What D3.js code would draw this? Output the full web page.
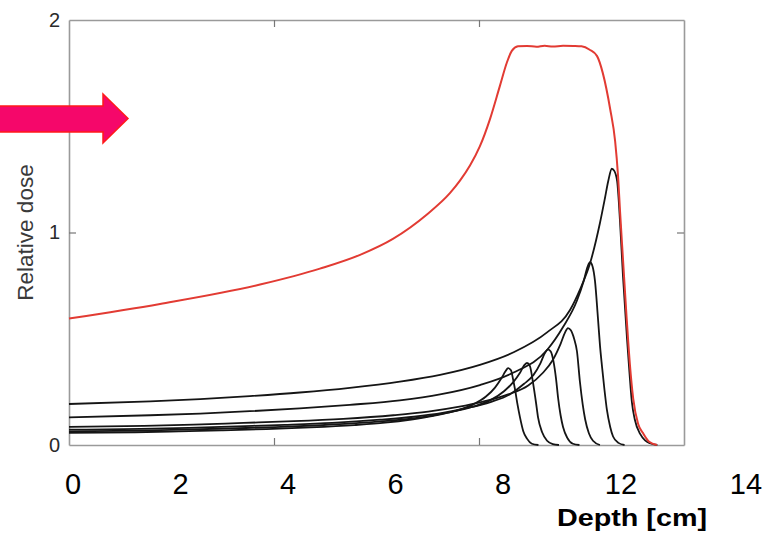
<!DOCTYPE html>
<html>
  <head>
    <meta charset="utf-8">
    <title>Relative dose vs depth</title>
    <script src="https://d3js.org/d3.v7.min.js"></script>
    <style>
      body { margin: 0; background: #fff; }
      #chart { display: block; font-family: "Liberation Sans", Arial, sans-serif; }
      .frame path.domain { stroke: #9a9a9a; stroke-width: 1.6; }
      .frame .tick line { stroke: #777; stroke-width: 1.2; }
      .ylab path.domain { display: none; }
      .ylab .tick text { font-size: 20px; fill: #2a2a2a; }
      .bragg { fill: none; stroke: #151515; stroke-width: 1.8; }
      .sobp { fill: none; stroke: #e23b33; stroke-width: 2; }
    </style>
  </head>
  <body>
    <svg id="chart" width="769" height="539"></svg>
    <script>
      // data: [depth, relative dose]
      peak1 = [[0,0.057],[1.61,0.06],[2.68,0.064],[3.75,0.069],[4.82,0.075],[5.89,0.083],[6.96,0.094],[7.71,0.105],[8.35,0.12],[8.89,0.137],[9.42,0.16],[9.85,0.19],[10.17,0.228],[10.39,0.27],[10.55,0.315],[10.65,0.348],[10.71,0.362],[10.78,0.352],[10.83,0.31],[10.88,0.26],[10.94,0.19],[11.0,0.13],[11.08,0.065],[11.17,0.03],[11.29,0.006],[11.45,0]];
      peak2 = [[0,0.064],[1.68,0.068],[2.79,0.072],[3.91,0.078],[5.03,0.084],[6.14,0.093],[7.26,0.106],[8.04,0.118],[8.71,0.134],[9.27,0.153],[9.83,0.179],[10.28,0.211],[10.61,0.253],[10.83,0.295],[11.0,0.34],[11.1,0.375],[11.17,0.386],[11.24,0.372],[11.32,0.29],[11.39,0.2],[11.44,0.13],[11.54,0.06],[11.66,0.02],[11.8,0.004],[11.95,0]];
      peak3 = [[0,0.072],[1.75,0.076],[2.92,0.081],[4.09,0.088],[5.26,0.095],[6.42,0.104],[7.59,0.119],[8.41,0.133],[9.11,0.151],[9.69,0.173],[10.28,0.202],[10.75,0.238],[11.1,0.288],[11.33,0.33],[11.5,0.385],[11.6,0.43],[11.68,0.45],[11.75,0.44],[11.82,0.39],[11.88,0.31],[11.93,0.22],[11.99,0.14],[12.05,0.085],[12.15,0.035],[12.29,0.006],[12.45,0]];
      peak4 = [[0,0.085],[1.83,0.09],[3.04,0.096],[4.26,0.104],[5.48,0.112],[6.69,0.123],[7.91,0.14],[8.76,0.157],[9.49,0.179],[10.1,0.204],[10.71,0.238],[11.2,0.28],[11.56,0.34],[11.8,0.4],[11.99,0.476],[12.1,0.53],[12.17,0.55],[12.24,0.54],[12.32,0.5],[12.39,0.44],[12.46,0.3],[12.53,0.19],[12.59,0.12],[12.68,0.055],[12.78,0.02],[12.95,0]];
      peak5 = [[0,0.13],[1.98,0.14],[3.2,0.148],[4.41,0.159],[5.63,0.172],[6.85,0.189],[8.07,0.21],[9.05,0.238],[10.02,0.282],[10.83,0.34],[11.66,0.447],[12.05,0.555],[12.39,0.68],[12.55,0.77],[12.65,0.84],[12.71,0.86],[12.77,0.84],[12.83,0.77],[12.9,0.6],[12.95,0.47],[13.0,0.37],[13.06,0.26],[13.12,0.165],[13.2,0.085],[13.27,0.04],[13.4,0.01],[13.55,0]];
      peak6 = [[0,0.193],[1.98,0.205],[3.2,0.216],[4.41,0.23],[5.63,0.247],[6.85,0.269],[8.07,0.298],[9.05,0.33],[10.02,0.377],[10.83,0.435],[11.66,0.53],[12.22,0.635],[12.46,0.73],[12.71,0.856],[12.95,1.045],[13.07,1.16],[13.15,1.24],[13.24,1.3],[13.3,1.29],[13.37,1.24],[13.44,1.05],[13.51,0.8],[13.61,0.5],[13.67,0.34],[13.73,0.2],[13.8,0.12],[13.93,0.052],[14.05,0.022],[14.17,0.008],[14.35,0]];
      sobp = [[0,0.595],[2.22,0.664],[4.66,0.755],[6.12,0.83],[7.1,0.895],[7.9,0.97],[8.73,1.085],[9.29,1.185],[9.54,1.245],[9.78,1.315],[10.02,1.405],[10.27,1.535],[10.51,1.69],[10.68,1.8],[10.8,1.855],[10.95,1.876],[11.17,1.878],[11.4,1.874],[11.6,1.879],[11.8,1.875],[12.05,1.879],[12.3,1.878],[12.5,1.876],[12.7,1.86],[12.88,1.83],[13.02,1.75],[13.2,1.58],[13.32,1.43],[13.39,1.27],[13.44,1.1],[13.51,0.88],[13.6,0.6],[13.68,0.38],[13.76,0.22],[13.88,0.1],[14.0,0.056],[14.15,0.015],[14.34,0]];
      braggCurves = [peak1, peak2, peak3, peak4, peak5, peak6];

      // tick labels
      yTickValues = [0, 1, 2];
      depthLabels = [0, 2, 4, 6, 8, 12, 14];
      yTitle = "Relative dose";
      xTitle = "Depth [cm]";

      chart = d3.select("#chart");

      // plot scales (inner frame)
      x = d3.scaleLinear().domain([0, 15]).range([69, 684]);
      y = d3.scaleLinear().domain([0, 2]).range([445, 20]);
      // overlaid depth labels are spaced by hand in the original
      xLabel = d3.scaleLinear().domain([0, 8, 12, 14]).range([73, 503, 621, 746]);

      // frame with little inner ticks
      chart.append("g").attr("class", "frame")
        .attr("transform", "translate(0," + y(0) + ")")
        .call(d3.axisBottom(x).tickValues([5, 10]).tickSizeInner(-7).tickSizeOuter(0).tickFormat(""));
      chart.append("g").attr("class", "frame")
        .attr("transform", "translate(0," + y(2) + ")")
        .call(d3.axisTop(x).tickValues([5, 10]).tickSizeInner(-7).tickSizeOuter(0).tickFormat(""));
      chart.append("g").attr("class", "frame")
        .attr("transform", "translate(" + x(0) + ",0)")
        .call(d3.axisLeft(y).tickValues([1]).tickSizeInner(-7).tickSizeOuter(0).tickFormat(""));
      chart.append("g").attr("class", "frame")
        .attr("transform", "translate(" + x(15) + ",0)")
        .call(d3.axisRight(y).tickValues([1]).tickSizeInner(-7).tickSizeOuter(0).tickFormat(""));

      // y tick labels
      chart.append("g").attr("class", "ylab")
        .attr("transform", "translate(" + x(0) + ",0)")
        .call(d3.axisLeft(y).tickValues(yTickValues).tickSize(0).tickPadding(9).tickFormat(d3.format("d")))
        .selectAll("text").attr("font-family", null);

      chart.append("text")
        .attr("transform", "translate(33," + y(1) + ") rotate(-90)")
        .attr("text-anchor", "middle")
        .style("font-size", "22.5px")
        .style("fill", "#3a3a3a")
        .text(yTitle);

      // curves
      line = d3.line()
        .x(function(d) { return x(d[0]); })
        .y(function(d) { return y(d[1]); })
        .curve(d3.curveMonotoneX);

      chart.append("g")
        .selectAll(".bragg")
          .data(braggCurves)
        .enter().append("path")
          .attr("class", "bragg")
          .attr("d", line);

      chart.append("path")
        .datum(sobp)
        .attr("class", "sobp")
        .attr("d", line);

      // arrow annotation
      chart.append("path")
        .attr("d", "M-4,106 L103,106 L103,94 L128,118.5 L103,143 L103,132 L-4,132 Z")
        .style("fill", "#f5076a")
        .style("stroke", "#ff1a1a")
        .style("stroke-width", 1.5);

      // big depth labels underneath
      chart.append("g")
        .selectAll(".depth")
          .data(depthLabels)
        .enter().append("text")
          .attr("class", "depth")
          .attr("x", function(d) { return xLabel(d); })
          .attr("y", 494)
          .attr("text-anchor", "middle")
          .style("font-size", "29px")
          .style("fill", "#000")
          .text(function(d) { return d; });

      chart.append("text")
        .attr("x", 557)
        .attr("y", 526)
        .attr("textLength", 150)
        .attr("lengthAdjust", "spacingAndGlyphs")
        .style("font-size", "23px")
        .style("font-weight", "bold")
        .style("fill", "#000")
        .text(xTitle);
    </script>
  </body>
</html>
